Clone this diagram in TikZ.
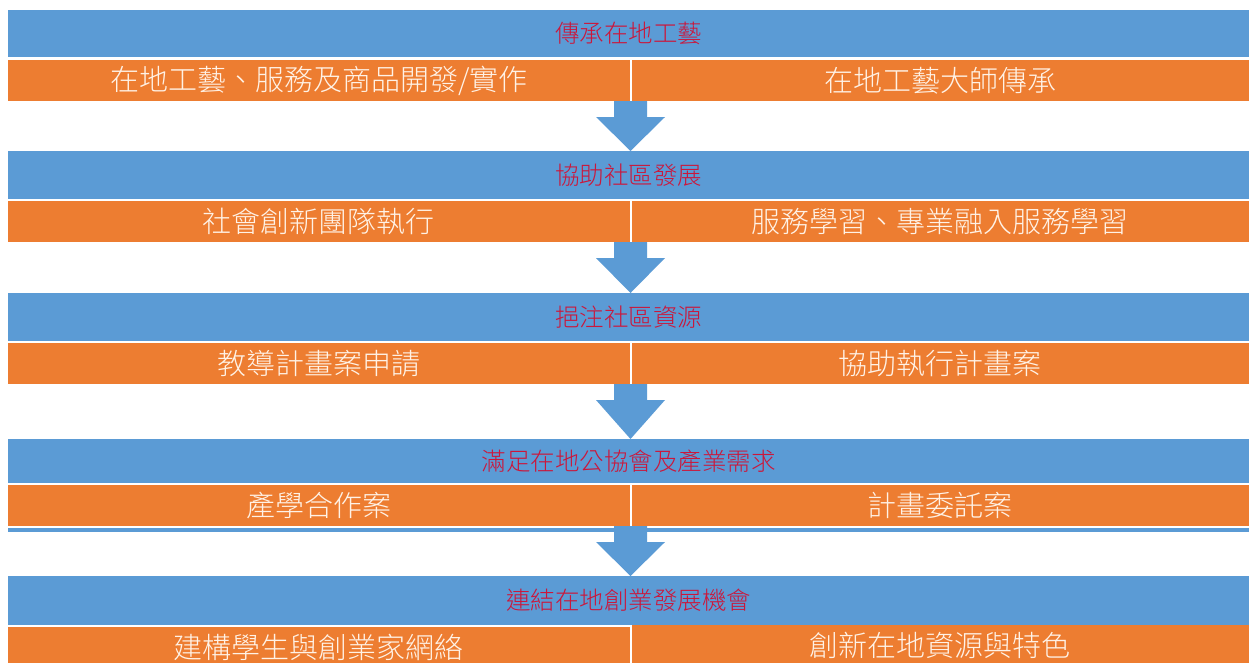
\documentclass[tikz,border=0pt]{standalone}
\usepackage{fontspec}
\setmainfont{Noto Sans CJK TC}[UprightFont=* Light]
\usepackage{tikz}
\usetikzlibrary{calc}
\definecolor{barblue}{RGB}{91,155,213}
\definecolor{barorange}{RGB}{237,125,49}
\definecolor{titlered}{RGB}{204,22,58}
\definecolor{cream}{RGB}{255,242,230}
\tikzset{
        bar/.style={anchor=north west, inner sep=0pt, outer sep=0pt}, % common to every bar
        titlebar/.style={bar, fill=barblue, text=titlered, minimum width=1241pt, font=\fontsize{24.5}{26}\selectfont},
        leftcell/.style={bar, fill=barorange, text=cream, minimum width=621.5pt, minimum height=41pt, font=\fontsize{29}{30}\selectfont},
        rightcell/.style={leftcell, minimum width=617.5pt},
}
% block arrow from the gap between two cells down to the next title bar
\newcommand{\flowarrow}[3]{%
  \fill[barblue] let \p1=($(#1.south east)!0.5!(#2.south west)$), \p2=(#3.north) in
    (\x1-16.5pt,\y1) -- (\x1+16.5pt,\y1) -- (\x1+16.5pt,\y1-16pt) -- (\x1+34.5pt,\y1-16pt)
    -- (\x1,\y2) -- (\x1-34.5pt,\y1-16pt) -- (\x1-16.5pt,\y1-16pt) -- cycle;}

\begin{document}
\begin{tikzpicture}[x=1pt,y=-1pt]
\useasboundingbox (0,0) rectangle (1249,662);
\clip (0,0) rectangle (1249,662);
\fill[white] (0,0) rectangle (1249,662);

\node[titlebar, minimum height=47pt] (head1) at (8,10) {傳承在地工藝};
\node[leftcell] (left1) at (8,60) {在地工藝、服務及商品開發/實作};
\node[rightcell] (right1) at (631.5,60) {在地工藝大師傳承};

\node[titlebar, minimum height=48pt] (head2) at (8,151) {協助社區發展};
\node[leftcell] (left2) at (8,201) {社會創新團隊執行};
\node[rightcell] (right2) at (631.5,201) {服務學習、專業融入服務學習};

\node[titlebar, minimum height=48pt] (head3) at (8,293) {挹注社區資源};
\node[leftcell] (left3) at (8,343) {教導計畫案申請};
\node[rightcell] (right3) at (631.5,343) {協助執行計畫案};

\node[titlebar, minimum height=44pt] (head4) at (8,439) {滿足在地公協會及產業需求};
\node[leftcell] (left4) at (8,485) {產學合作案};
\node[rightcell] (right4) at (631.5,485) {計畫委託案};
\fill[barblue] (8,528) rectangle (1249,532);

\node[titlebar, minimum height=49pt] (head5) at (8,576) {連結在地創業發展機會};
\node[leftcell] (left5) at (8,627) {建構學生與創業家網絡};
\node[rightcell] (right5) at (631.5,625) {創新在地資源與特色};

\flowarrow{left1}{right1}{head2}
\flowarrow{left2}{right2}{head3}
\flowarrow{left3}{right3}{head4}
\flowarrow{left4}{right4}{head5}
\end{tikzpicture}
\end{document}
